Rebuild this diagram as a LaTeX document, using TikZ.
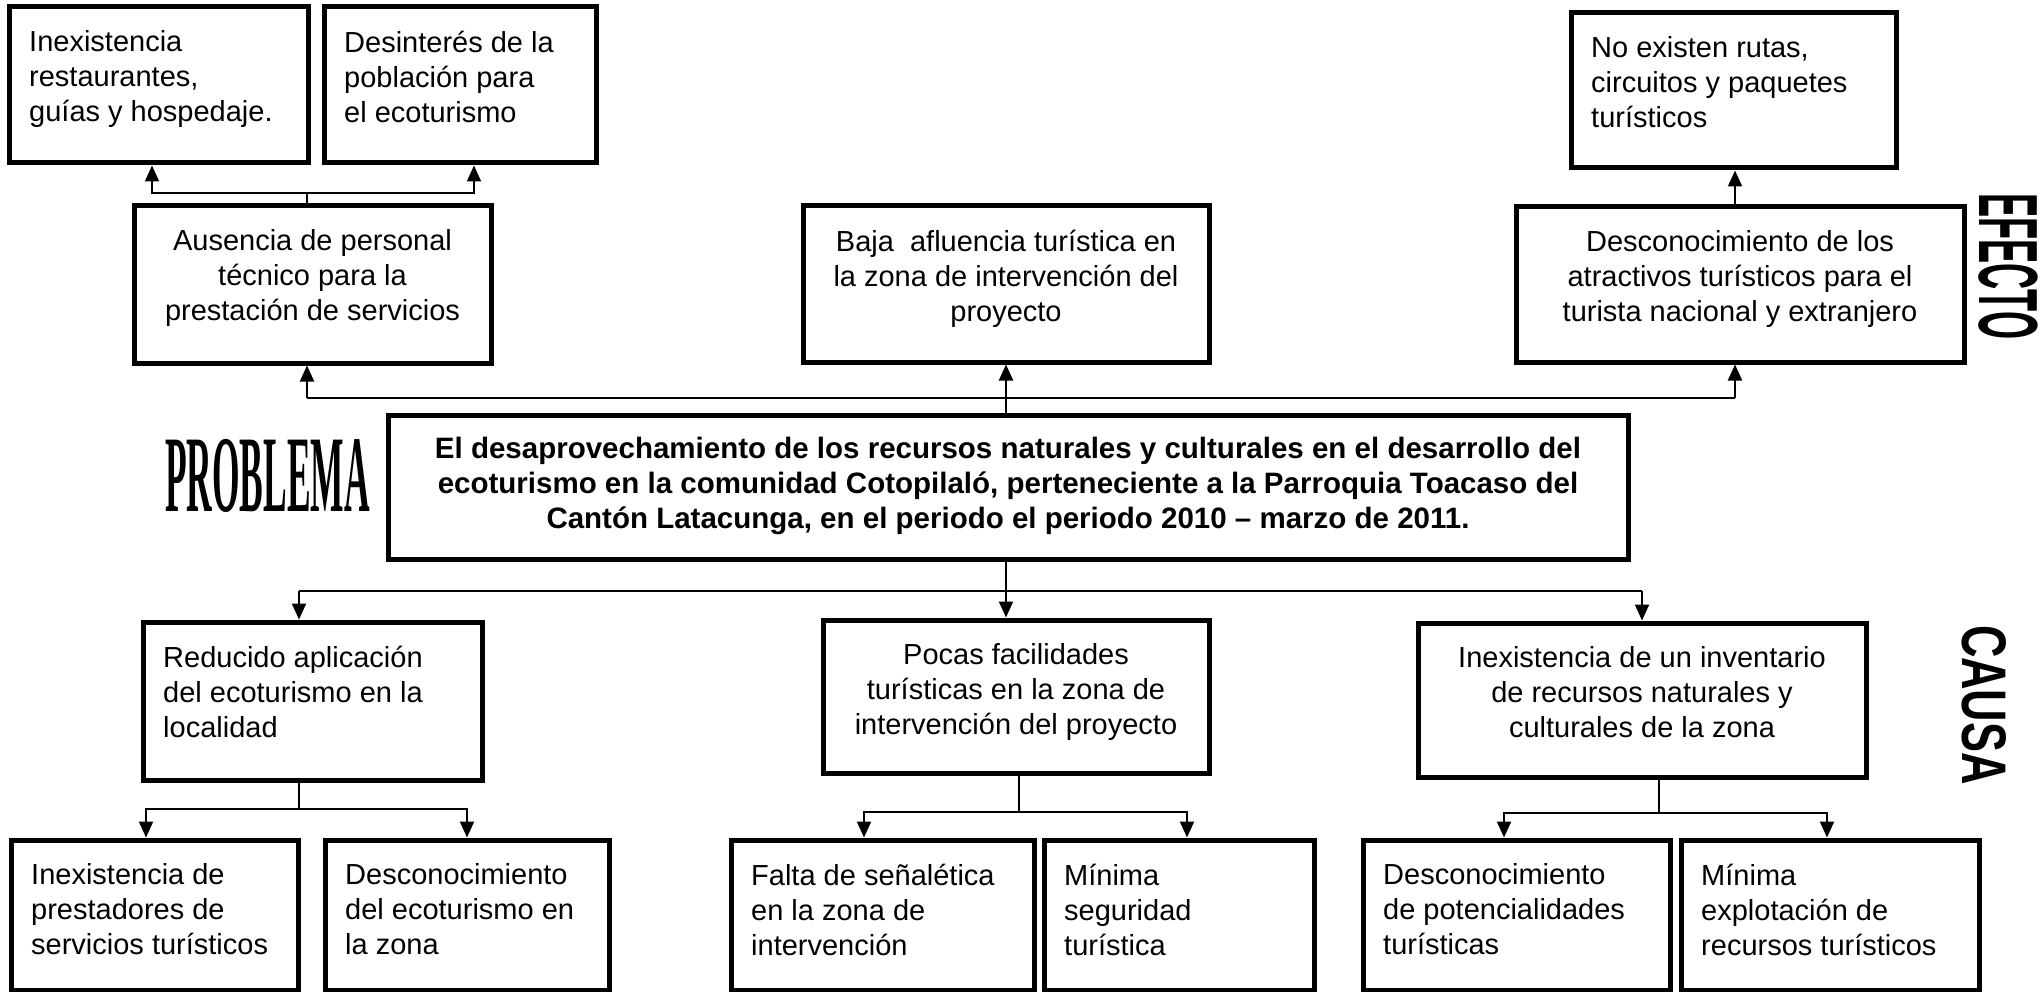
\documentclass[tikz,border=0pt]{standalone}
\usepackage{graphicx}
\usepackage{fontspec}
\setmainfont{Liberation Sans}
\newfontfamily\serifb{Liberation Serif}
\usetikzlibrary{arrows.meta,calc}
\begin{document}
\begin{tikzpicture}[x=1pt,y=-1pt,
  box/.style={draw, line width=5pt, inner sep=0pt},
  txt/.style={inner sep=0pt, font=\fontsize{29}{35}\selectfont},
  ltxt/.style={txt, align=left, anchor=north west},
  ctxt/.style={txt, align=center, anchor=north},
  conn/.style={line width=2pt},
  arr/.style={conn, -{Triangle[width=14pt,length=16pt]}},
  bigtitle/.style={inner sep=0pt}]
\useasboundingbox (0,0) rectangle (2042,992);
% ---- boxes ----
\node[box, minimum width=299pt, minimum height=156pt] (a1) at (158.5,85) {};
\node[box, minimum width=272pt, minimum height=156pt] (a2) at (460,85) {};
\node[box, minimum width=357pt, minimum height=157pt] (e1) at (312.5,284.5) {};
\node[box, minimum width=406pt, minimum height=156pt] (e2) at (1006,284) {};
\node[box, minimum width=448pt, minimum height=155pt] (e3) at (1740,284.5) {};
\node[box, minimum width=325pt, minimum height=155pt] (e4) at (1733.5,90.5) {};
\node[box, minimum width=1240pt, minimum height=144pt] (p) at (1008,487) {};
\node[box, minimum width=339pt, minimum height=158pt] (c1) at (312.5,701) {};
\node[box, minimum width=386pt, minimum height=153pt] (c2) at (1016,696.5) {};
\node[box, minimum width=448pt, minimum height=154pt] (c3) at (1642,700) {};
\node[box, minimum width=287pt, minimum height=150pt] (b1) at (154.5,915) {};
\node[box, minimum width=284pt, minimum height=150pt] (b2) at (467,915) {};
\node[box, minimum width=303pt, minimum height=150pt] (b3) at (882.5,915) {};
\node[box, minimum width=270pt, minimum height=150pt] (b4) at (1179,915) {};
\node[box, minimum width=307pt, minimum height=150pt] (b5) at (1516.5,915) {};
\node[box, minimum width=298pt, minimum height=150pt] (b6) at (1830,915) {};
% ---- texts ----
\node[ltxt] (a1t) at ([xshift=22.5pt,yshift=-26pt]a1.north west) {Inexistencia\\restaurantes,\\guías y hospedaje.};
\node[ltxt] (a2t) at ([xshift=22.5pt,yshift=-26pt]a2.north west) {Desinterés de la\\población para\\el ecoturismo};
\node[ctxt] (e1t) at ([yshift=-26pt]e1.north) {Ausencia de personal\\técnico para la\\prestación de servicios};
\node[ctxt] (e2t) at ([yshift=-26pt]e2.north) {Baja~ afluencia turística en\\la zona de intervención del\\proyecto};
\node[ctxt] (e3t) at ([yshift=-26pt]e3.north) {Desconocimiento de los\\atractivos turísticos para el\\turista nacional y extranjero};
\node[ltxt] (e4t) at ([xshift=22.5pt,yshift=-26pt]e4.north west) {No existen rutas,\\circuitos y paquetes\\turísticos};
\node[ctxt, font=\fontsize{29.5}{35}\selectfont\bfseries] (pt) at ([yshift=-24pt]p.north) {El desaprovechamiento de los recursos naturales y culturales en el desarrollo del\\ecoturismo en la comunidad Cotopilaló, perteneciente a la Parroquia Toacaso del\\Cantón Latacunga, en el periodo el periodo 2010 – marzo de 2011.};
\node[ltxt] (c1t) at ([xshift=22.5pt,yshift=-26pt]c1.north west) {Reducido aplicación\\del ecoturismo en la\\localidad};
\node[ctxt] (c2t) at ([yshift=-26pt]c2.north) {Pocas facilidades\\turísticas en la zona de\\intervención del proyecto};
\node[ctxt] (c3t) at ([yshift=-26pt]c3.north) {Inexistencia de un inventario\\de recursos naturales y\\culturales de la zona};
\node[ltxt] (b1t) at ([xshift=22.5pt,yshift=-26pt]b1.north west) {Inexistencia de\\prestadores de\\servicios turísticos};
\node[ltxt] (b2t) at ([xshift=22.5pt,yshift=-26pt]b2.north west) {Desconocimiento\\del ecoturismo en\\la zona};
\node[ltxt] (b3t) at ([xshift=22.5pt,yshift=-26pt]b3.north west) {Falta de señalética\\en la zona de\\intervención};
\node[ltxt] (b4t) at ([xshift=22.5pt,yshift=-26pt]b4.north west) {Mínima\\seguridad\\turística};
\node[ltxt] (b5t) at ([xshift=22.5pt,yshift=-26pt]b5.north west) {Desconocimiento\\de potencialidades\\turísticas};
\node[ltxt] (b6t) at ([xshift=22.5pt,yshift=-26pt]b6.north west) {Mínima\\explotación de\\recursos turísticos};
% ---- side titles ----
\node[bigtitle] (lblp) at (267.5,476) {\scalebox{0.325}[1]{\fontsize{109}{109}\selectfont\serifb\bfseries PROBLEMA}};
\node[bigtitle, rotate=-90] (lble) at (2008,266.5) {\scalebox{0.43}[1]{\fontsize{84}{84}\selectfont\bfseries EFECTO}};
\node[bigtitle, rotate=-90] (lblc) at (1984.5,705) {\scalebox{0.714}[1]{\fontsize{63}{63}\selectfont\bfseries CAUSA}};
% ---- connectors: effects ----
\coordinate (j1) at (307,193);
\draw[conn] (e1.north -| j1) -- (j1);
\draw[arr] (j1) -| ([xshift=-6.5pt]a1.south);
\draw[arr] (j1) -| ([xshift=14pt]a2.south);
\coordinate (x3) at (1735,0);
\draw[arr] (e3.north -| x3) -- (e4.south -| x3);
\coordinate (h1) at (307,398);
\coordinate (h2) at (1735,398);
\draw[conn] (h1) -- (h2);
\draw[arr] (h1) -- (e1.south -| h1);
\draw[arr] (h2) -- (e3.south -| h2);
\draw[arr] (p.north -| e2.south) -- (e2.south);
% ---- connectors: causes ----
\coordinate (h3) at (299,591);
\coordinate (h4) at (1642,591);
\draw[conn] (h3) -- (h4);
\draw[arr] (h3) -- (c1.north -| h3);
\draw[arr] (h4) -- (c3.north);
\draw[arr] (p.south -| e2.south) -- (c2.north -| e2.south);
\coordinate (k1) at (299,809);
\draw[conn] (c1.south -| k1) -- (k1);
\draw[arr] (k1) -| ([xshift=-8.5pt]b1.north);
\draw[arr] (k1) -| (b2.north);
\coordinate (k2) at (1019,812);
\draw[conn] (c2.south -| k2) -- (k2);
\draw[arr] (k2) -| ([xshift=-18.5pt]b3.north);
\draw[arr] (k2) -| ([xshift=8pt]b4.north);
\coordinate (k3) at (1659,813);
\draw[conn] (c3.south -| k3) -- (k3);
\draw[arr] (k3) -| ([xshift=-12.5pt]b5.north);
\draw[arr] (k3) -| ([xshift=-3pt]b6.north);
\end{tikzpicture}
\end{document}
